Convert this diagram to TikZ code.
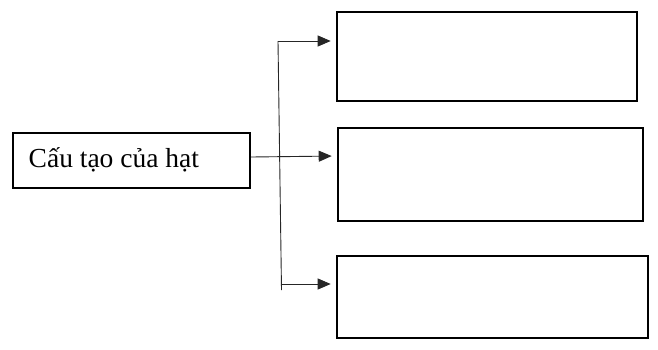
\documentclass[tikz,border=0pt]{standalone}
\usepackage{fontspec}
\setmainfont{Liberation Serif}
\usetikzlibrary{arrows.meta}
\tikzset{
  box/.style={draw=black, line width=2pt, rectangle, inner sep=0pt, anchor=north west},
  conn/.style={draw=black!85, line width=0.9pt},
  arr/.style={conn, -{Triangle[length=13pt,width=11pt]}, shorten >=5.3pt}
}
\begin{document}
\begin{tikzpicture}[x=1pt,y=-1pt]
\useasboundingbox (0,0) rectangle (658,349);
\node[box, minimum width=237pt, minimum height=55pt] (L) at (12,132) {};
\node[anchor=base west, inner sep=0pt, font=\fontsize{27.5}{32}\selectfont] (T) at (28.5,167.5) {Cấu tạo của hạt};
\node[box, minimum width=300pt, minimum height=89pt] (b1) at (336,10.5) {};
\node[box, minimum width=305pt, minimum height=93pt] (b2) at (337,126.5) {};
\node[box, minimum width=310.5pt, minimum height=82.5pt] (b3) at (336,254.5) {};
\coordinate (j1) at (278,41);
\coordinate (j3) at (281.5,290);
\coordinate (j3a) at (281.3,284);
\draw[conn] (j1) -- (j3);
\draw[arr] (j1) -- (j1 -| b1.west);
\draw[arr] ([yshift=3.5pt]L.east) -- ([yshift=4.5pt]L.east -| b2.west);
\draw[arr] (j3a) -- (j3a -| b3.west);
\end{tikzpicture}
\end{document}
